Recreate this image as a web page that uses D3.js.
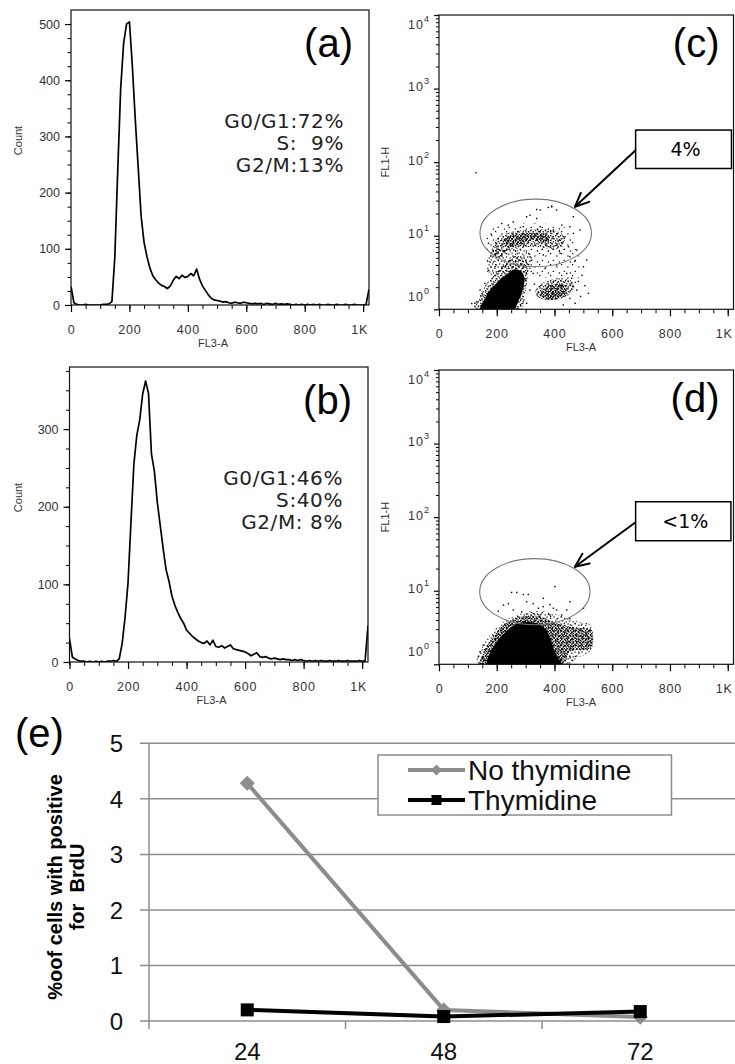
<!DOCTYPE html>
<html>
<head>
<meta charset="utf-8">
<script src="https://cdnjs.cloudflare.com/ajax/libs/d3/7.8.5/d3.min.js"></script>
<style>
  body { margin: 0; background: #fff; }
  svg { display: block; }
</style>
</head>
<body>
<div id="maincontent"></div>
<script>
// ---------- histogram data (counts every 10 channels of FL3-A) ----------
var channels = d3.range(0, 1021, 10);
var countsA = [
  33, 4, 1, 0, 0, 1, 0, 0, 0, 0,
  0, 1, 1, 2, 6, 85, 240, 385, 465, 500,
  504, 425, 330, 245, 158, 112, 86, 66, 52, 45,
  39, 35, 33, 29, 34, 44, 51, 47, 53, 49,
  51, 56, 52, 64, 46, 34, 26, 18, 12, 9,
  8, 7, 5, 6, 4, 3, 5, 4, 3, 5,
  4, 3, 2, 3, 2, 3, 1, 3, 2, 1,
  3, 1, 2, 1, 2, 1, 0, 1, 0, 1,
  0, 1, 0, 1, 0, 1, 0, 0, 1, 0,
  0, 1, 0, 0, 1, 0, 0, 1, 0, 0,
  0, 1, 28
];
var countsB = [
  30, 6, 4, 2, 1, 1, 0, 1, 0, 1,
  0, 1, 0, 1, 1, 2, 1, 4, 24, 58,
  102, 180, 255, 292, 312, 345, 362, 346, 268, 246,
  206, 176, 146, 119, 104, 85, 73, 64, 56, 50,
  41, 37, 33, 30, 27, 25, 24, 27, 22, 28,
  20, 19, 21, 18, 20, 22, 17, 16, 15, 14,
  13, 11, 8, 10, 12, 7, 6, 7, 5, 4,
  5, 4, 3, 4, 3, 3, 2, 3, 2, 3,
  2, 1, 2, 1, 2, 1, 2, 1, 1, 2,
  1, 1, 2, 1, 1, 2, 1, 1, 1, 2,
  1, 1, 47
];
var statsA = ["G0/G1:72%", "S:  9%", "G2/M:13%"];
var statsB = ["G0/G1:46%", "S:40%", "G2/M: 8%"];
var fl3Ticks = [0, 200, 400, 600, 800, 1000];
var fl3Labels = ["0", "200", "400", "600", "800", "1K"];

// ---------- dot plot (c): FL3-A vs FL1-H, regions by density ----------
var cSolid = [
  [[140,1],[142,1.05],[157,1.36],[174,1.78],[196,2.2],[214,2.6],[238,3.05],[262,3.5],[284,3.3],[296,2.7],[292,1.95],[280,1.42],[268,1.12],[262,1]]
];
var cHeavy = [
  [[223,8.7],[257,10.3],[303,10.8],[350,10.8],[384,9.7],[373,7.9],[326,8.9],[280,7.5],[234,7.1]],
  [[350,1.57],[373,2.03],[407,2.2],[436,2.1],[442,1.7],[419,1.41],[373,1.35]]
];
var cDense = [
  [[128,1],[140,1.45],[157,2.0],[180,2.6],[203,3.35],[226,4.1],[250,4.8],[274,5.3],[300,4.8],[308,3.8],[306,2.5],[298,1.6],[285,1]],
  [[332,1.65],[350,2.14],[384,2.5],[425,2.64],[453,2.5],[471,2.14],[459,1.65],[425,1.41],[384,1.34],[350,1.41]],
  [[182,5.77],[194,8.3],[217,10.2],[257,11.4],[303,12],[350,12.2],[390,12],[425,10.8],[436,8.3],[419,6.7],[373,6.7],[326,7.1],[280,6.7],[234,6.1],[200,4.9]]
];
var cMedium = [
  [[165,3.8],[176,5.8],[211,6.7],[269,6.7],[315,5.8],[326,4.2],[303,3.1],[257,3.4],[211,3.1],[176,2.8]]
];
var cLight = [
  [[303,5.8],[430,7.1],[476,6.5],[488,3.8],[476,2.3],[430,2.7],[361,2.7],[315,3.1]],
  [[170,12.5],[260,14.5],[380,14.5],[450,12],[470,8],[440,6],[300,6.2],[180,5]]
];
var cDots = [
  [128,72],[378,24.3],[390,25.4],[315,19.1],[303,18.2],[217,14.7],[257,15.5],[338,17.2],
  [425,14.0],[453,13.3],[436,9.7],[465,10.8],[448,7.1],[477,6.4],[453,5.2],[419,5.8],
  [200,5.8],[176,4.4],[171,3.4],[194,3.8],[159,2.25],[142,1.83],[124,1.21],[280,1.49],
  [303,1.21],[315,1.83],[326,3.08],[367,3.6],[407,4.0],[442,3.08],[459,2.64],[477,1.83],
  [471,1.21],[430,1.15],[453,1.41],[263,5.2],[315,5.2],[361,5.5],[384,7.1],[240,14],
  [292,13.3],[350,13.3],[396,12],[182,10.2],[171,7.9],[200,7.1],[407,22.4],[350,22.4],
  [465,18.2],[517,1.65],[500,3.8],[511,4.68],[488,12],[338,22.8],[390,24.8],[113,1.2],
  [124,1.09],[130,1.27],[482,2.4],[495,2.9],[505,2.1],[490,1.5],[470,4.5],[285,4.1],
  [245,4.6],[230,3.9],[330,2.2],[345,1.7],[300,2.6],[265,2.3]
];

// ---------- dot plot (d) ----------
var dSolid = [
  [[168,1],[172,1.3],[188,1.7],[205,2.15],[228,2.7],[252,3.25],[278,3.65],[312,3.75],[348,3.5],[372,2.9],[386,2.2],[398,1.6],[410,1.27],[424,1]]
];
var dDense = [
  [[142,1],[153,1.41],[171,1.9],[194,2.55],[223,3.4],[257,4.1],[292,4.5],[326,4.6],[361,4.3],[407,3.6],[453,3.25],[500,3.08],[528,2.93],[528,1.65],[500,1.57],[453,1.49],[430,1]]
];
var dLight = [
  [[130,1],[148,1.65],[176,2.5],[223,3.8],[269,4.68],[315,5.2],[373,5.2],[430,4.44],[488,3.8],[528,3.42],[532,2.5],[523,1.49],[476,1.2],[453,1]]
];
var dDots = [
  [251,9.5],[269,9.5],[292,8.9],[309,8.9],[401,11.4],[361,7.9],[223,6.4],[205,5.3],
  [240,6.7],[257,5.5],[286,5.2],[303,7.1],[326,6.7],[344,5.8],[361,6.1],[384,6.5],
  [396,5.8],[407,5.5],[442,5.5],[453,7.1],[384,4.7],[350,4.7],[326,4.9],[453,4.2],
  [500,5.8],[425,4.7],[142,1.49],[136,1.27],[153,1.83],[476,2.03],[511,1.83],[517,2.25],
  [453,1.27],[373,1.27],[407,1.2]
];

// ---------- (e) BrdU positive cells ----------
var hours = ["24", "48", "72"];
var noThymidine = [4.28, 0.2, 0.07];
var thymidine = [0.2, 0.08, 0.17];
var eTicks = [0, 1, 2, 3, 4, 5];

var svg = d3.select("#maincontent")
  .append("svg")
  .attr("width", 735)
  .attr("height", 1064);
var defs = svg.append("defs");

// dot textures, overlaid with different periods so they don't look like a grid
function addPattern(id, size, dots) {
  var pat = defs.append("pattern")
    .attr("id", id)
    .attr("width", size)
    .attr("height", size)
    .attr("patternUnits", "userSpaceOnUse");
  dots.forEach(function(d) {
    pat.append("rect").attr("x", d[0]).attr("y", d[1])
      .attr("width", 1.2).attr("height", 1.2).attr("fill", "#000");
  });
}
addPattern("p3", 3, [[0,0],[1.6,1.5]]);
addPattern("p5", 5, [[0,0],[2.7,1.1],[1.3,3.2]]);
addPattern("p7", 7, [[0.5,0.4],[4.2,1.7],[2.1,4.4],[5.6,5.3]]);
addPattern("p11", 11, [[0,0],[6.3,2.4],[2.7,6.8],[8.8,8.4]]);
var texture = {
  light: ["p11"],
  medium: ["p7", "p11"],
  dense: ["p5", "p7", "p11"],
  heavy: ["p3", "p5", "p7"]
};

var tickFont = "Liberation Sans, Arial, sans-serif";

function xAxisFL3(g, p, x) {
  var minor = d3.range(0, 1001, 50);
  g.append("g").attr("transform", "translate(0," + p.bottom + ")")
    .call(d3.axisBottom(x).tickValues(minor).tickSize(4).tickFormat(""))
    .call(function(a) { a.select(".domain").remove(); });
  var ax = g.append("g").attr("transform", "translate(0," + p.bottom + ")")
    .call(d3.axisBottom(x).tickValues(fl3Ticks).tickSize(7).tickPadding(13)
      .tickFormat(function(d, i) { return fl3Labels[i]; }));
  ax.select(".domain").remove();
  ax.selectAll("line").attr("stroke", "#000").attr("stroke-width", 1.2);
  ax.selectAll("text").attr("font-family", tickFont).attr("font-size", 12.5)
    .attr("fill", "#333").attr("letter-spacing", 0.8)
    .attr("dx", function(d, i) { return i == fl3Ticks.length - 1 ? -4 : 0; });
  g.append("text")
    .attr("x", p.left + 142).attr("y", p.bottom + 42)
    .attr("text-anchor", "middle")
    .attr("font-family", tickFont).attr("font-size", 11).attr("fill", "#333")
    .text("FL3-A");
}

function frame(g, p) {
  g.append("rect")
    .attr("x", p.left).attr("y", p.top)
    .attr("width", p.right - p.left).attr("height", p.bottom - p.top)
    .attr("fill", "none").attr("stroke", "#111").attr("stroke-width", 1.2);
}

function tag(g, x, y, s) {
  g.append("text").attr("x", x).attr("y", y)
    .attr("text-anchor", "end")
    .attr("font-family", "Liberation Sans, Arial, sans-serif")
    .attr("font-size", 40).attr("fill", "#000")
    .text(s);
}

function sideLabel(g, x, y, s) {
  g.append("text")
    .attr("transform", "translate(" + x + "," + y + ") rotate(-90)")
    .attr("text-anchor", "middle").attr("dominant-baseline", "central")
    .attr("font-family", tickFont).attr("font-size", 11).attr("fill", "#333")
    .text(s);
}

function drawHist(p, counts, yMax, stats, label) {
  var g = svg.append("g");
  var x = d3.scaleLinear().domain([0, 1020]).range([p.left, p.right]);
  var y = d3.scaleLinear().domain([0, yMax]).range([p.bottom, p.top]);

  var id = "clip" + label.replace(/\W/g, "");
  defs.append("clipPath").attr("id", id).append("rect")
    .attr("x", p.left).attr("y", p.top)
    .attr("width", p.right - p.left).attr("height", p.bottom - p.top);

  var line = d3.line()
    .x(function(d, i) { return x(channels[i]); })
    .y(function(d) { return y(d); });
  g.append("path")
    .datum(counts)
    .attr("clip-path", "url(#" + id + ")")
    .attr("d", line)
    .attr("fill", "none")
    .attr("stroke", "#000")
    .attr("stroke-width", 1.7)
    .attr("stroke-linejoin", "round");

  // y ticks: labels every 100, minor every 25
  var minor = d3.range(0, yMax, 25);
  g.append("g").attr("transform", "translate(" + p.left + ",0)")
    .call(d3.axisLeft(y).tickValues(minor).tickSize(3.5).tickFormat(""))
    .call(function(a) { a.select(".domain").remove(); });
  var ay = g.append("g").attr("transform", "translate(" + p.left + ",0)")
    .call(d3.axisLeft(y).tickValues(d3.range(0, yMax, 100)).tickSize(6).tickPadding(5));
  ay.select(".domain").remove();
  ay.selectAll("line").attr("stroke-width", 1.2);
  ay.selectAll("text").attr("font-family", tickFont).attr("font-size", 12.5).attr("fill", "#333");

  xAxisFL3(g, p, x);
  frame(g, p);
  sideLabel(g, 18, (p.top + p.bottom) / 2 - 17, "Count");

  stats.forEach(function(s, i) {
    g.append("text")
      .attr("x", p.right - 25).attr("y", p.top + 118 + i * 21.8)
      .attr("text-anchor", "end")
      .attr("font-family", "DejaVu Sans, Verdana, sans-serif")
      .attr("font-size", 20).attr("letter-spacing", 0.6)
      .attr("fill", "#222")
      .style("white-space", "pre")
      .text(s);
  });
  tag(g, p.right - 16, p.top + 47, label);
}

function drawDots(p, levels, dots, gate, note, label) {
  var g = svg.append("g");
  var x = d3.scaleLinear().domain([0, 1020]).range([p.left, p.right]);
  var y = d3.scaleLog().domain([1, 1e4]).range([p.bottom, p.top]);

  var id = "clip" + label.replace(/\W/g, "");
  defs.append("clipPath").attr("id", id).append("rect")
    .attr("x", p.left).attr("y", p.top)
    .attr("width", p.right - p.left).attr("height", p.bottom - p.top);
  var area = g.append("g").attr("clip-path", "url(#" + id + ")");

  var blob = d3.line()
    .x(function(d) { return x(d[0]); })
    .y(function(d) { return y(Math.max(1, d[1])); })
    .curve(d3.curveCatmullRomClosed);

  levels.forEach(function(lv) {
    var fills = lv.fill == "solid" ? ["#000"] : texture[lv.fill].map(function(t) { return "url(#" + t + ")"; });
    fills.forEach(function(f) {
      area.selectAll(null)
        .data(lv.polys)
        .enter()
        .append("path")
        .attr("d", blob)
        .attr("fill", f);
    });
  });

  area.selectAll("rect.pt")
    .data(dots)
    .enter()
    .append("rect")
    .attr("class", "pt")
    .attr("x", function(d) { return x(d[0]) - 0.6; })
    .attr("y", function(d) { return y(d[1]) - 0.6; })
    .attr("width", 1.4)
    .attr("height", 1.4)
    .attr("fill", "#000");

  // gate ellipse
  var cx = x(gate[0]), cy = y(gate[1]);
  g.append("ellipse")
    .attr("cx", cx).attr("cy", cy)
    .attr("rx", x(gate[0] + gate[2]) - cx)
    .attr("ry", cy - y(gate[1] * Math.pow(10, gate[3])))
    .attr("fill", "none").attr("stroke", "#777").attr("stroke-width", 1.1);

  // log y axis
  var minor = [];
  [1, 10, 100, 1000].forEach(function(b) {
    for (var m = 2; m <= 9; m++) minor.push(b * m);
  });
  g.append("g").attr("transform", "translate(" + p.left + ",0)")
    .call(d3.axisLeft(y).tickValues(minor).tickSize(3).tickFormat(""))
    .call(function(a) { a.select(".domain").remove(); });
  var ay = g.append("g").attr("transform", "translate(" + p.left + ",0)")
    .call(d3.axisLeft(y).tickValues([1, 10, 100, 1000, 10000]).tickSize(5).tickFormat(""));
  ay.select(".domain").remove();
  ay.selectAll("line").attr("stroke-width", 1.2);
  [0, 1, 2, 3, 4].forEach(function(e) {
    var ty = Math.max(p.top + 9, Math.min(p.bottom - 13, y(Math.pow(10, e)) - 2));
    var t = g.append("text")
      .attr("x", p.left - 10).attr("y", ty + 4.5)
      .attr("text-anchor", "end")
      .attr("font-family", tickFont).attr("font-size", 12.5).attr("fill", "#333");
    t.append("tspan").attr("letter-spacing", 1).text("10");
    t.append("tspan").attr("dy", -7).attr("font-size", 9).text(e);
  });

  xAxisFL3(g, p, x);
  frame(g, p);
  sideLabel(g, 385, (p.top + p.bottom) / 2, "FL1-H");

  // callout box with arrow
  var bx0 = x(note.box[0]), bx1 = x(note.box[1]);
  var by0 = y(note.box[3]), by1 = y(note.box[2]);
  var sx = bx0, sy = (by0 + by1) / 2 + 1;
  var ex = x(note.tip[0]), ey = y(note.tip[1]);
  g.append("line").attr("x1", sx).attr("y1", sy).attr("x2", ex).attr("y2", ey)
    .attr("stroke", "#000").attr("stroke-width", 2);
  var ang = Math.atan2(sy - ey, sx - ex);
  [-0.42, 0.42].forEach(function(o) {
    g.append("line")
      .attr("x1", ex).attr("y1", ey)
      .attr("x2", ex + 15 * Math.cos(ang + o))
      .attr("y2", ey + 15 * Math.sin(ang + o))
      .attr("stroke", "#000").attr("stroke-width", 2).attr("stroke-linecap", "round");
  });
  g.append("rect")
    .attr("x", bx0).attr("y", by0)
    .attr("width", bx1 - bx0).attr("height", by1 - by0)
    .attr("fill", "#fff").attr("stroke", "#000").attr("stroke-width", 1.5);
  g.append("text")
    .attr("x", (bx0 + bx1) / 2 + 2).attr("y", (by0 + by1) / 2 + 7)
    .attr("text-anchor", "middle")
    .attr("font-family", "DejaVu Sans, Verdana, sans-serif")
    .attr("font-size", 19).attr("fill", "#000")
    .text(note.text);

  tag(g, p.right - 14, p.top + 42, label);
}

var pA = {left: 71, top: 10, right: 369, bottom: 305};
var pB = {left: 69.5, top: 367, right: 368, bottom: 662};
var pC = {left: 439, top: 15, right: 733.5, bottom: 309.3};
var pD = {left: 439, top: 370, right: 733.5, bottom: 664.3};

drawHist(pA, countsA, 525, statsA, "(a)");
drawHist(pB, countsB, 380, statsB, "(b)");

drawDots(pC,
  [{polys: cLight, fill: "light"},
   {polys: cMedium, fill: "medium"},
   {polys: cDense, fill: "dense"},
   {polys: cHeavy, fill: "heavy"},
   {polys: cSolid, fill: "solid"}],
  cDots, [335, 10.9, 193, 0.46],
  {box: [681, 1013, 82, 273], tip: [471, 24.8], text: "4%"}, "(c)");

drawDots(pD,
  [{polys: dLight, fill: "medium"},
   {polys: dDense, fill: "heavy"},
   {polys: dSolid, fill: "solid"}],
  dDots, [332, 9.7, 191, 0.45],
  {box: [681, 1011, 47.8, 162], tip: [471, 21.2], text: "<1%"}, "(d)");

// ---------- (e) line chart ----------
var pE = {left: 149, right: 738.5, top: 743.3, bottom: 1021};
var xE = d3.scaleBand().domain(hours).range([pE.left, pE.right]);
var yE = d3.scaleLinear().domain([0, 5]).range([pE.bottom, pE.top]);
var eFont = "Liberation Sans, Arial, sans-serif";
var gE = svg.append("g");
var grey = "#8c8c8c";

gE.selectAll("line.grid")
  .data(eTicks)
  .enter()
  .append("line")
  .attr("x1", pE.left - 9).attr("x2", 735)
  .attr("y1", function(d) { return yE(d); })
  .attr("y2", function(d) { return yE(d); })
  .attr("stroke", grey).attr("stroke-width", 1.5);
gE.append("line")
  .attr("x1", pE.left).attr("x2", pE.left)
  .attr("y1", yE(5)).attr("y2", yE(0))
  .attr("stroke", grey).attr("stroke-width", 1.5);
gE.selectAll("line.xt")
  .data(hours.map(function(h) { return xE(h); }).concat([pE.right]))
  .enter()
  .append("line")
  .attr("x1", function(d) { return d; }).attr("x2", function(d) { return d; })
  .attr("y1", yE(0)).attr("y2", yE(0) + 8)
  .attr("stroke", grey).attr("stroke-width", 1.5);

gE.selectAll("text.yl")
  .data(eTicks)
  .enter()
  .append("text")
  .attr("x", 123)
  .attr("y", function(d) { return yE(d) + 9; })
  .attr("text-anchor", "end")
  .attr("font-family", eFont).attr("font-size", 24).attr("fill", "#111")
  .text(function(d) { return d; });
gE.selectAll("text.xl")
  .data(hours)
  .enter()
  .append("text")
  .attr("x", function(d) { return xE(d) + xE.bandwidth() / 2; })
  .attr("y", 1060)
  .attr("text-anchor", "middle")
  .attr("font-family", eFont).attr("font-size", 24).attr("fill", "#111")
  .text(function(d) { return d; });

var lineE = d3.line()
  .x(function(d, i) { return xE(hours[i]) + xE.bandwidth() / 2; })
  .y(function(d) { return yE(d); });

var series = [
  {vals: noThymidine, color: grey, size: 115, rot: 45},
  {vals: thymidine, color: "#000", size: 169, rot: 0}
];
series.forEach(function(s) {
  gE.append("path")
    .datum(s.vals)
    .attr("d", lineE)
    .attr("fill", "none")
    .attr("stroke", s.color)
    .attr("stroke-width", 4)
    .attr("stroke-linejoin", "round");
  gE.selectAll(null)
    .data(s.vals)
    .enter()
    .append("path")
    .attr("d", d3.symbol().type(d3.symbolSquare).size(s.size))
    .attr("transform", function(d, i) {
      return "translate(" + (xE(hours[i]) + xE.bandwidth() / 2) + "," + yE(d) + ") rotate(" + s.rot + ")";
    })
    .attr("fill", s.color);
});

// legend
gE.append("rect")
  .attr("x", 378).attr("y", 755).attr("width", 293.5).attr("height", 60)
  .attr("fill", "#fff").attr("stroke", grey).attr("stroke-width", 1.5);
var legendNames = ["No thymidine", "Thymidine"];
var legendSizes = [62, 100];
legendNames.forEach(function(name, i) {
  var ly = 770 + i * 30;
  gE.append("line")
    .attr("x1", 408).attr("x2", 465).attr("y1", ly).attr("y2", ly)
    .attr("stroke", series[i].color).attr("stroke-width", 4);
  gE.append("path")
    .attr("d", d3.symbol().type(d3.symbolSquare).size(legendSizes[i]))
    .attr("transform", "translate(436.5," + ly + ") rotate(" + series[i].rot + ")")
    .attr("fill", series[i].color);
  gE.append("text")
    .attr("x", 468).attr("y", ly + 10)
    .attr("font-family", eFont).attr("font-size", 28).attr("fill", "#111")
    .text(name);
});

// axis title, two lines, bold
[["%oof cells with positive", 62], ["for  BrdU", 84]].forEach(function(t) {
  gE.append("text")
    .attr("transform", "translate(" + t[1] + ",887) rotate(-90)")
    .attr("text-anchor", "middle")
    .attr("font-family", eFont).attr("font-weight", "bold").attr("font-size", 20)
    .attr("fill", "#000")
    .style("white-space", "pre")
    .text(t[0]);
});

gE.append("text")
  .attr("x", 15).attr("y", 747)
  .attr("font-family", eFont).attr("font-size", 40).attr("fill", "#000")
  .text("(e)");
</script>
</body>
</html>
